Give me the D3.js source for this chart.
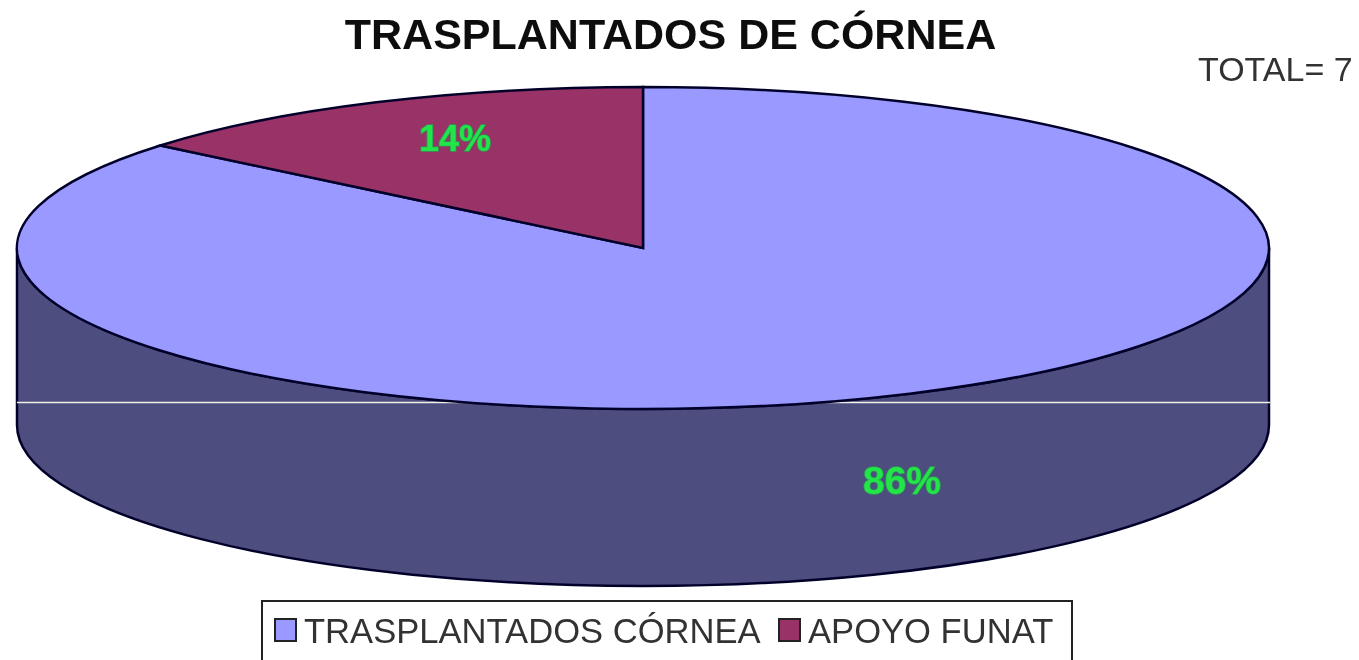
<!DOCTYPE html>
<html><head><meta charset="utf-8">
<script src="https://cdn.jsdelivr.net/npm/d3@7/dist/d3.min.js"></script>
<style>html,body{margin:0;padding:0;background:#fff}svg{display:block}text{font-family:"Liberation Sans",Arial,sans-serif}</style>
</head><body><svg id="c" width="1359" height="660"></svg>
<script>
const categories=["TRASPLANTADOS CÓRNEA","APOYO FUNAT"];
const values=[86,14];
const labels=["86%","14%"];
const topColors=["#9999ff","#993366"];
const sideColors=["#4d4d80","#4d1a33"];
const titleText="TRASPLANTADOS DE CÓRNEA";
const totalText="TOTAL= 7";

const W=1359,H=660,cx=643,cy=248,rx=626,ry=161,depth=177;
const svg=d3.select("#c");
const defs=svg.append("defs");
defs.append("filter").attr("id","soft").attr("x","-5%").attr("y","-5%").attr("width","110%").attr("height","110%")
  .append("feGaussianBlur").attr("stdDeviation",0.7);
const root=svg.append("g").attr("filter","url(#soft)");

const color=d3.scaleOrdinal(categories,topColors);
const side=d3.scaleOrdinal(categories,sideColors);
const pie=d3.pie().sort(null).value((d,i)=>values[i]);
const arcs=pie(categories);
const arc=d3.arc().innerRadius(0).outerRadius(1);
const px=a=>cx+rx*Math.sin(a), py=a=>cy-ry*Math.cos(a);

// side wall: the visible front half of the blue slice
const a0=Math.PI/2, a1=3*Math.PI/2;
const wall=`M${px(a0)},${py(a0)} L${px(a0)},${py(a0)+depth} A${rx},${ry} 0 0 1 ${px(a1)},${py(a1)+depth} L${px(a1)},${py(a1)} A${rx},${ry} 0 0 0 ${px(a0)},${py(a0)} Z`;
root.append("path").attr("d",wall).attr("fill",side(categories[0])).attr("stroke","#05052a").attr("stroke-width",2.5);
// faint scan line across the wall
root.append("line").attr("x1",cx-rx).attr("x2",cx+rx+1).attr("y1",402.5).attr("y2",402.5).attr("stroke","#f0f0e8").attr("stroke-width",1.4);

// top face
root.append("g").attr("transform",`translate(${cx},${cy}) scale(${rx},${ry})`)
 .selectAll("path").data(arcs).join("path")
 .attr("d",arc).attr("fill",d=>color(d.data))
 .attr("stroke","#05052a").attr("stroke-width",2.5).attr("vector-effect","non-scaling-stroke");

// value labels
const labelPos=[[902,480],[455,138]];
const labelSize=[39,36];
labels.forEach((t,i)=>{
  root.append("text").attr("x",labelPos[i][0]).attr("y",labelPos[i][1]).attr("text-anchor","middle")
   .attr("dominant-baseline","central").attr("font-size",labelSize[i]).attr("font-weight","bold").text(t)
   .attr("fill","#22e648").attr("stroke","#2c9a50").attr("stroke-width",1.6).attr("paint-order","stroke");
});

// title + total
root.append("text").attr("x",670.5).attr("y",49).attr("text-anchor","middle").attr("font-size",43).attr("font-weight","bold").attr("fill","#111").text(titleText);
root.append("text").attr("x",1198).attr("y",81).attr("font-size",34).attr("fill","#333").text(totalText);

// legend, its lower edge cut by the picture
root.append("path").attr("d","M262,661 V601 H1072 V661").attr("fill","#fff").attr("stroke","#222").attr("stroke-width",2);
const legendX=[275,779], textX=[304,808];
categories.forEach((c,i)=>{
  root.append("rect").attr("x",legendX[i]).attr("y",619).attr("width",21).attr("height",22).attr("fill",color(c)).attr("stroke","#222").attr("stroke-width",2);
  root.append("text").attr("x",textX[i]).attr("y",643).attr("font-size",34.6).attr("fill","#333").text(c);
});
</script></body></html>
